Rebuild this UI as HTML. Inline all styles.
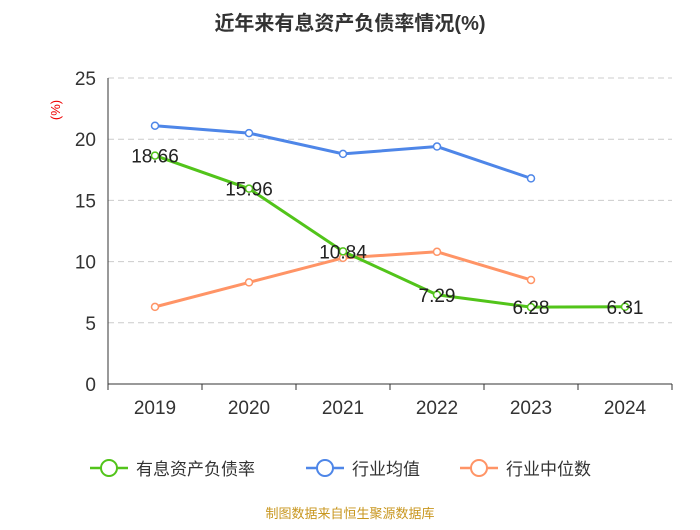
<!DOCTYPE html>
<html><head><meta charset="utf-8">
<style>
body{margin:0;background:#fff;font-family:"Liberation Sans","Noto Sans CJK SC",sans-serif;}
svg text{font-family:"Liberation Sans","Noto Sans CJK SC",sans-serif;}
</style></head>
<body>
<svg id="chart" width="700" height="525">
<text x="350" y="30" text-anchor="middle" font-size="20" font-weight="bold" fill="#333">近年来有息资产负债率情况(%)</text>
<text x="60" y="110" text-anchor="middle" font-size="13" fill="#e00" transform="rotate(-90 60 110)">(%)</text>
<g id="grid"></g><g id="axes"></g><g id="series"></g>
<g>
<g><line x1="90" y1="468" x2="128" y2="468" stroke="#52c41a" stroke-width="2.5"/><circle cx="109" cy="468" r="8" fill="#fff" stroke="#52c41a" stroke-width="2"/><text x="136" y="475" font-size="17" fill="#333">有息资产负债率</text></g>
<g><line x1="306" y1="468" x2="344" y2="468" stroke="#4e86e8" stroke-width="2.5"/><circle cx="325" cy="468" r="8" fill="#fff" stroke="#4e86e8" stroke-width="2"/><text x="352" y="475" font-size="17" fill="#333">行业均值</text></g>
<g><line x1="460" y1="468" x2="498" y2="468" stroke="#ff9466" stroke-width="2.5"/><circle cx="479" cy="468" r="8" fill="#fff" stroke="#ff9466" stroke-width="2"/><text x="506" y="475" font-size="17" fill="#333">行业中位数</text></g>
</g>
<text x="350" y="518" text-anchor="middle" font-size="13" fill="#c8961e">制图数据来自恒生聚源数据库</text>
</svg>
<script>
const years=["2019","2020","2021","2022","2023","2024"];
const company=[18.66,15.96,10.84,7.29,6.28,6.31];
const industryAvg=[21.1,20.5,18.8,19.4,16.8];
const industryMedian=[6.3,8.3,10.3,10.8,8.5];
const yTicks=[0,5,10,15,20,25];
const NS="http://www.w3.org/2000/svg";
const X0=108,X1=672,Y0=384,Y1=78;
const step=(X1-X0)/years.length;
const xs=i=>X0+step*(i+0.5);
const ys=v=>Y0-(v/25)*(Y0-Y1);
function mk(tag,attrs,parent){const e=document.createElementNS(NS,tag);for(const k in attrs)e.setAttribute(k,attrs[k]);parent.appendChild(e);return e;}
const grid=document.getElementById('grid'),axes=document.getElementById('axes'),ser=document.getElementById('series');
yTicks.forEach(t=>{
 if(t>0){const l=mk('line',{x1:X0,x2:X1,y1:ys(t),y2:ys(t),stroke:'#ccc','stroke-dasharray':'6,4'},grid);
 
 }
 const tx=mk('text',{x:96,y:ys(t)+7,'text-anchor':'end','font-size':'19',fill:'#333'},axes);tx.textContent=t;
 
 
});
const ya=mk('line',{x1:X0,x2:X0,y1:Y1,y2:Y0,stroke:'#333'},axes);


const xa=mk('line',{x1:X0,x2:X1,y1:Y0,y2:Y0,stroke:'#333'},axes);


years.forEach((y,i)=>{
 for(let k=0;k<=years.length;k++){}
 mk('line',{x1:X0+step*i,x2:X0+step*i,y1:Y0,y2:Y0+6,stroke:'#333'},axes);
 const tx=mk('text',{x:xs(i),y:414,'text-anchor':'middle','font-size':'19',fill:'#333'},axes);tx.textContent=y;
 
 
});
mk('line',{x1:X1,x2:X1,y1:Y0,y2:Y0+6,stroke:'#333'},axes);
function series(vals,color,name,labels){
 const pts=vals.map((v,i)=>xs(i)+','+ys(v)).join(' ');
 const pl=mk('polyline',{points:pts,fill:'none',stroke:color,'stroke-width':'3'},ser);
 
 
 vals.forEach((v,i)=>{
  const c=mk('circle',{cx:xs(i),cy:ys(v),r:3.5,fill:'#fff',stroke:color,'stroke-width':'1.5'},ser);
  
  
  if(labels){const t=mk('text',{x:xs(i),y:ys(v)+7,'text-anchor':'middle','font-size':'19',fill:'#222'},ser);t.textContent=v.toFixed(2);
   
   }
 });
}
series(industryMedian,'#ff9466','industry-median',false);
series(industryAvg,'#4e86e8','industry-average',false);
series(company,'#52c41a','company-debt-ratio',true);
</script>
</body></html>
